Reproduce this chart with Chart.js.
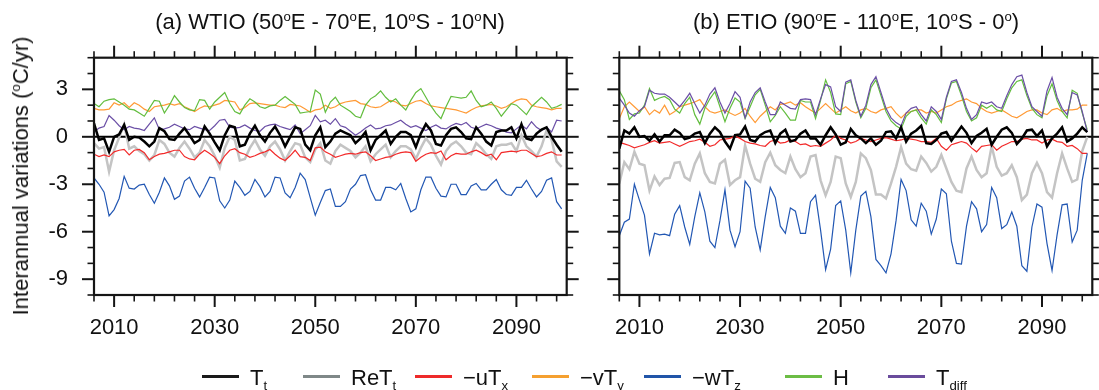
<!DOCTYPE html>
<html>
<head>
<meta charset="utf-8">
<script src="https://cdn.jsdelivr.net/npm/chart.js@4.4.1/dist/chart.umd.min.js"></script>
<style>
  html, body { margin: 0; padding: 0; background: #fff; }
  #wrap { position: relative; width: 1099px; height: 390px; overflow: hidden;
          font-family: "Liberation Sans", Arial, Helvetica, sans-serif; color: #111; }
  canvas { position: absolute; left: 0; top: 0; }
  .title { position: absolute; top: 11px; font-size: 22px; line-height: 22px; white-space: nowrap;
           transform: translateX(-50%); }
  .title sup { font-size: 0.6em; vertical-align: 0.6em; line-height: 0; }
  #ytitle { position: absolute; left: 21px; top: 176px; font-size: 22px; line-height: 22px;
            white-space: nowrap; transform: translate(-50%, -50%) rotate(-90deg); }
  #ytitle sup { font-size: 0.6em; vertical-align: 0.6em; line-height: 0; }
  .lg-line { position: absolute; top: 375px; width: 37px; height: 3px; }
  .lg-text { position: absolute; top: 367px; font-size: 22px; line-height: 22px; white-space: nowrap; }
  .lg-text sub { font-size: 0.6em; vertical-align: -0.35em; line-height: 0; }
</style>
</head>
<body>
<div id="wrap">
  <canvas id="chartA" width="1099" height="390"></canvas>
  <canvas id="chartB" width="1099" height="390"></canvas>
  <div class="title" style="left:330px">(a) WTIO (50<sup>o</sup>E - 70<sup>o</sup>E, 10<sup>o</sup>S - 10<sup>o</sup>N)</div>
  <div class="title" style="left:856px">(b) ETIO (90<sup>o</sup>E - 110<sup>o</sup>E, 10<sup>o</sup>S - 0<sup>o</sup>)</div>
  <div id="ytitle">Interannual variations (<sup>o</sup>C/yr)</div>
  <div id="legend"></div>
</div>
<script>
// years 2006-2099
const years = Array.from({ length: 94 }, (_, i) => 2006 + i);
const xTicks = [2010, 2030, 2050, 2070, 2090];
const xMinor = [2006, 2014, 2018, 2022, 2026, 2034, 2038, 2042, 2046, 2054, 2058, 2062, 2066, 2074, 2078, 2082, 2086, 2094, 2098];
const yTicks = [-9, -6, -3, 0, 3];
const yMinor = [-10, -8, -7, -5, -4, -2, -1, 1, 2, 4, 5];

const seriesNames = ["T<sub>t</sub>", "ReT<sub>t</sub>", "\u2212uT<sub>x</sub>", "\u2212vT<sub>y</sub>", "\u2212wT<sub>z</sub>", "H", "T<sub>diff</sub>"];

// (a) WTIO
const aTt = [0.85, -0.2, -0.1, -0.95, 0.0, 0.15, 0.75, -0.2, 0.0, -0.05,
  -0.3, -0.6, -0.3, 0.55, 0.35, -0.15, -0.2, 0.2, 0.55, 0.1,
  -0.4, -0.2, 0.65, 0.2, -0.35, -0.85, 0.1, 0.7, 0.6, -0.6,
  -0.5, 0.2, 0.7, 0.1, -0.3, 0.25, 0.65, 0.1, -0.6, 0.0,
  0.6, 0.5, -0.5, -0.85, 0.1, 0.6, -0.65, -0.3, 0.2, 0.4,
  0.25, 0.1, -0.4, -0.1, 0.3, -0.85, -0.2, 0.1, 0.4, -0.45,
  0.0, 0.3, 0.3, 0.1, -0.65, 0.2, 0.8, 0.4, -0.45, -0.55,
  0.1, 0.5, 0.6, 0.3, -0.1, -0.15, 0.6, 0.2, -0.3, -0.55,
  0.3, 0.4, 0.4, 0.6, -0.1, 0.8, -0.1, -0.2, 0.2, 0.45,
  0.6, 0.0, -0.5, -0.95];
const aReTt = [-0.4, -0.75, -0.65, -2.2, -0.85, -0.05, 0.8, -0.75, -0.6, -0.9,
  -1.1, -1.5, -1.15, -0.2, -0.45, -1.0, -1.25, -0.7, -0.3, -0.75,
  -1.3, -1.0, -0.2, -0.6, -1.2, -1.95, -0.7, 0.0, -0.2, -1.5,
  -1.4, -0.7, -0.2, -0.8, -1.2, -0.6, -0.3, -0.8, -1.5, -0.9,
  -0.4, -0.5, -1.3, -1.6, -0.8, -0.4, -1.5, -1.7, -0.9, -0.5,
  -0.7, -0.9, -1.3, -1.0, -0.6, -1.55, -1.1, -0.8, -0.5, -1.3,
  -0.9, -0.6, -0.6, -0.8, -1.4, -0.7, -0.1, -0.5, -1.2, -1.75,
  -0.9, -0.5, -0.3, -0.6, -1.0, -1.1, -0.4, -0.7, -1.1, -1.4,
  -0.6, -0.5, -0.5, -0.4, -0.9, 0.1, -0.6, -0.9, -1.25, -0.6,
  0.4, -0.2, -1.55, -1.9];
const aUTx = [-1.1, -1.25, -1.15, -1.25, -0.95, -0.85, -0.8, -1.15, -0.85, -0.8,
  -1.0, -1.45, -1.25, -1.1, -1.05, -0.95, -0.85, -0.85, -1.25, -1.4,
  -1.45, -1.1, -0.85, -1.05, -1.3, -1.7, -1.2, -0.85, -0.75, -1.0,
  -1.1, -1.3, -1.2, -1.05, -0.95, -0.8, -1.1, -1.35, -1.5, -1.2,
  -0.85, -1.25, -1.3, -1.5, -0.7, -0.65, -0.95, -1.1, -1.3, -1.2,
  -1.1, -1.05, -1.1, -1.0, -0.95, -1.2, -1.5, -1.4, -1.3, -1.25,
  -1.1, -1.0, -0.95, -1.0, -1.55, -1.3, -1.1, -1.0, -1.05, -0.9,
  -1.45, -1.2, -1.05, -1.1, -1.1, -0.95, -0.85, -1.0, -1.2, -1.1,
  -1.45, -1.0, -0.95, -0.9, -0.95, -0.85, -0.85, -1.05, -1.25, -1.2,
  -1.05, -0.95, -1.15, -1.15];
const aVTy = [1.8, 1.7, 1.7, 1.75, 2.15, 2.0, 2.15, 1.85, 2.15, 2.0,
  1.75, 1.6, 1.9, 1.95, 2.0, 2.1, 2.0, 2.1, 1.9, 1.75,
  1.6, 1.8, 1.95, 1.9, 2.0, 2.1, 2.3, 2.25, 2.2, 1.7,
  1.85, 2.1, 2.15, 2.1, 2.05, 2.0, 2.0, 1.9, 1.85, 2.05,
  2.0, 1.95, 1.75, 1.55, 1.7, 1.75, 2.0, 1.8, 1.9, 2.1,
  2.2, 2.25, 2.3, 2.1, 2.05, 1.9, 1.85, 1.9, 2.1, 2.3,
  2.2, 2.0, 1.95, 2.1, 2.25, 2.3, 2.1, 1.95, 1.9, 1.85,
  1.8, 1.75, 1.7, 1.6, 1.5, 1.7, 1.85, 1.95, 2.0, 2.05,
  1.95, 1.8, 1.9, 2.1, 2.3, 2.4, 2.35, 2.0, 1.9, 1.85,
  1.8, 1.7, 1.8, 1.8];
const aWTz = [-2.6, -3.0, -3.5, -5.0, -4.6, -3.9, -2.5, -3.25, -3.3, -3.05,
  -3.0, -3.65, -4.2, -3.5, -2.6, -3.1, -3.95, -3.75, -2.8, -2.55,
  -3.25, -3.8, -3.2, -2.55, -2.6, -4.05, -4.5, -4.0, -2.8, -3.2,
  -3.7, -3.45, -2.7, -3.15, -3.8, -3.45, -2.55, -2.6, -3.55, -3.85,
  -3.2, -2.3, -2.7, -3.85, -4.95, -4.15, -3.4, -3.3, -4.4, -4.4,
  -4.1, -3.3, -3.0, -2.45, -2.4, -3.35, -4.0, -4.0, -3.2, -3.2,
  -3.35, -2.95, -3.9, -4.75, -4.55, -3.35, -2.55, -2.55, -3.25, -3.75,
  -3.8, -3.0, -3.0, -3.65, -3.65, -3.1, -2.95, -3.35, -3.35, -3.0,
  -2.7, -3.35, -3.65, -3.7, -3.2, -3.2, -2.75, -3.3, -3.8, -3.45,
  -2.75, -2.6, -4.1, -4.55];
const aH = [2.1, 1.9, 2.25, 2.35, 2.4, 2.2, 2.0, 1.75, 1.7, 1.5,
  1.3, 1.8, 2.3, 2.25, 1.5, 2.0, 2.6, 2.2, 1.85, 1.7,
  1.65, 2.35, 2.3, 1.75, 2.2, 2.5, 2.8, 2.1, 1.6, 1.45,
  2.0, 2.4, 2.2, 1.9, 1.8, 1.95, 2.0, 2.3, 2.55, 2.3,
  2.05, 1.5, 1.55, 1.6, 2.95, 2.7, 1.55, 2.2, 2.5, 2.0,
  1.8, 1.6, 1.3, 1.2, 2.0, 2.4, 2.6, 2.9, 2.5, 2.2,
  2.4, 2.0, 1.7, 2.3, 2.8, 3.05, 2.5, 1.95, 1.5, 1.15,
  1.9, 2.55, 2.5, 2.45, 2.5, 2.9, 2.3, 1.9, 2.0, 2.2,
  1.8, 1.3, 1.7, 2.1, 2.0, 1.7, 1.4, 1.9, 2.2, 2.5,
  2.2, 1.8, 1.9, 2.05];
const aTdiff = [0.3, 0.55, 0.65, 1.35, 1.05, 0.7, 0.45, 0.65, 0.55, 0.5,
  0.4, 0.8, 1.2, 0.45, 0.5, 0.6, 0.8, 0.65, 0.5, 0.45,
  0.65, 0.55, 0.45, 0.4, 0.7, 1.05, 1.1, 0.6, 0.55, 0.6,
  0.75, 0.55, 0.4, 0.35, 0.65, 0.75, 0.8, 0.65, 0.55, 0.45,
  0.75, 0.2, 0.45, 0.7, 1.35, 0.95, 1.05, 0.8, 1.15, 0.7,
  0.6, 0.35, 0.1, 0.3, 0.55, 0.75, 0.5, 0.55, 0.7, 0.75,
  0.9, 1.05, 0.8, 0.6, 0.7, 0.55, 0.4, 0.6, 0.75, 0.55,
  0.5, 0.7, 0.85, 0.75, 0.9, 0.6, 0.5, 0.65, 0.8, 0.7,
  0.55, 0.45, 0.3, 0.25, 0.5, 0.75, 0.5, 0.95, 0.6, 0.4,
  0.6, 0.3, 1.05, 1.0];

// (b) ETIO
const bTt = [-0.75, 0.4, 0.2, 0.6, 0.0, 0.05, -0.25, 0.15, -0.3, 0.1,
  0.1, 0.45, 0.25, -0.15, -0.05, 0.2, 0.3, -0.4, 0.2, 0.6,
  0.3, -0.3, -0.75, 0.1, 0.15, 0.65, -0.2, -0.3, 0.1, 0.3,
  0.4, -0.4, 0.2, 0.45, -0.3, -0.2, 0.2, 0.4, -0.1, -0.1,
  -0.5, 0.1, 0.6, 0.15, -0.5, -0.35, 0.5, 0.1, -0.1, -0.4,
  -0.1, -0.5, -0.25, 0.3, 0.35, -0.1, 0.6, -0.3, 0.2, 0.4,
  0.7, -0.4, -0.45, -0.2, 0.2, 0.3, -0.25, 0.2, 0.65, 0.25,
  -0.4, 0.05, 0.25, 0.5, -0.5, 0.0, 0.45, 0.6, 0.25, -0.45,
  -0.1, 0.4, 0.45, 0.05, 0.4, -0.6, -0.1, 0.2, 0.6, -0.3,
  -0.1, 0.2, 0.6, 0.3];
const bReTt = [-2.95, -1.6, -2.05, -0.95, -1.7, -1.8, -3.4, -2.5, -3.05, -2.65,
  -2.6, -1.65, -1.6, -2.55, -2.75, -1.7, -1.05, -2.3, -2.85, -2.95,
  -1.7, -1.45, -3.05, -2.75, -2.55, -0.55, -1.7, -2.65, -2.85, -1.6,
  -1.0, -1.8, -2.1, -2.3, -1.25, -2.05, -2.55, -2.3, -1.25, -1.15,
  -2.75, -3.7, -2.85, -1.25, -1.35, -2.95, -3.8, -2.85, -1.05, -1.35,
  -2.1, -3.65, -3.65, -3.9, -2.95, -1.9, -0.65, -1.7, -2.05, -2.15,
  -1.25, -1.65, -2.2, -1.9, -1.15, -2.0, -2.85, -3.4, -3.5, -2.0,
  -1.25, -2.1, -2.55, -2.3, -0.6, -1.9, -2.45, -2.3, -1.8, -2.55,
  -4.0, -3.65, -2.3, -1.65, -2.3, -3.5, -3.85, -2.3, -1.05, -2.0,
  -2.85, -2.7, -0.9, 0.0];
const bUTx = [-0.35, -0.45, -0.55, -0.7, -0.6, -0.5, -0.35, -0.25, -0.4, -0.35,
  -0.3, -0.45, -0.6, -0.45, -0.3, -0.25, -0.15, -0.35, -0.6, -0.5,
  -0.2, -0.15, -0.1, 0.05, -0.1, -0.3, -0.4, -0.45, -0.55, -0.6,
  -0.3, -0.2, -0.4, -0.35, -0.2, -0.3, -0.5, -0.45, -0.6, -0.55,
  -0.6, -0.4, -0.2, 0.1, -0.1, -0.2, -0.4, -0.3, -0.1, -0.2,
  -0.3, -0.2, -0.1, -0.05, -0.15, -0.25, -0.2, -0.1, -0.15, -0.2,
  -0.3, -0.3, -0.35, -0.1, -0.6, -0.85, -0.5, -0.4, -0.3, -0.4,
  -0.7, -0.95, -0.6, -0.55, -0.5, -0.85, -0.6, -0.45, -0.3, -0.3,
  -0.15, -0.1, -0.2, -0.2, -0.4, -0.2, -0.15, -0.3, -0.35, -0.6,
  -0.55, -0.75, -1.05, -1.05];
const bVTy = [1.15, 1.9, 2.2, 1.9, 1.6, 1.9, 1.4, 1.7, 1.5, 2.0,
  1.4, 1.6, 1.9, 2.0, 2.1, 2.2, 2.35, 1.9, 1.6, 1.5,
  1.6, 1.7, 1.5, 1.35, 1.5, 1.8, 1.3, 0.9, 1.3, 1.6,
  1.9, 1.7, 2.05, 2.1, 2.2, 2.0, 2.15, 1.9, 1.7, 1.5,
  1.8, 2.1, 1.8, 1.5, 1.7, 1.9, 1.65, 1.5, 1.7, 1.8,
  1.6, 1.5, 1.7, 1.8, 1.9, 1.5, 1.2, 1.5, 1.6, 1.7,
  1.7, 1.5, 1.6, 1.5, 1.7, 1.9, 2.0, 2.2, 2.3, 2.4,
  2.2, 2.1, 1.8, 1.6, 1.5, 1.6, 1.7, 1.5, 1.3, 1.2,
  1.4, 1.6, 1.7, 1.7, 1.5, 1.4, 1.7, 1.8, 1.6, 1.7,
  1.7, 1.75, 2.0, 2.0];
const bWTz = [-6.25, -5.4, -5.2, -3.0, -4.0, -4.95, -7.4, -6.1, -6.2, -6.15,
  -6.25, -4.9, -4.35, -5.7, -6.8, -5.05, -3.55, -4.75, -6.6, -7.0,
  -5.3, -3.35, -5.9, -6.95, -6.0, -2.8, -3.25, -5.7, -7.15, -5.05,
  -3.2, -3.85, -5.65, -6.1, -4.5, -4.7, -6.1, -6.1, -4.1, -3.7,
  -5.9, -8.4, -7.1, -4.35, -4.05, -5.9, -8.6, -5.9, -3.75, -3.45,
  -5.05, -7.75, -8.15, -8.6, -7.4, -5.3, -2.7, -3.4, -5.25, -5.65,
  -4.2, -4.7, -6.15, -5.2, -3.3, -3.6, -6.6, -8.0, -8.05, -5.65,
  -4.1, -4.55, -6.0, -5.55, -3.2, -3.85, -5.8, -5.55, -4.75, -5.65,
  -8.15, -8.5, -5.7, -4.25, -4.45, -6.75, -8.45, -6.2, -4.3, -4.25,
  -6.65, -5.9, -2.75, -1.05];
const bH = [2.9, 2.35, 1.1, 1.45, 1.5, 2.0, 3.05, 2.3, 2.45, 2.55,
  2.35, 1.75, 1.5, 2.1, 2.5, 1.4, 0.8, 1.8, 2.4, 2.85,
  1.9, 0.95, 1.8, 2.45, 2.2, 1.15, 1.9, 2.65, 3.0, 2.0,
  0.95, 1.35, 1.9, 1.5, 1.05, 1.05, 2.3, 2.2, 2.2, 1.15,
  2.3, 3.6, 2.8, 1.45, 1.4, 3.35, 3.5, 2.2, 1.2, 1.8,
  3.1, 3.6, 2.6, 1.6, 1.0, 0.7, 0.5, 1.3, 1.6, 1.7,
  1.2, 0.8, 1.7, 1.4, 0.9, 2.4, 3.4, 3.5, 2.6, 1.6,
  1.0, 1.2, 2.0, 1.8, 2.0, 1.7, 1.6, 2.4, 3.1, 3.5,
  3.6, 2.6, 1.8, 1.4, 1.2, 2.6, 3.35, 2.3, 1.6, 1.2,
  2.95, 2.75, 1.5, 0.45];
const bTdiff = [2.45, 2.0, 1.5, 1.3, 1.65, 1.9, 2.95, 2.75, 2.7, 2.7,
  2.5, 2.2, 1.9, 2.3, 2.75, 2.1, 1.5, 2.0, 2.7, 3.1,
  2.2, 1.5, 2.1, 2.85, 2.5, 1.2, 2.2, 2.8, 3.1, 2.2,
  1.4, 1.4, 2.2, 2.0, 1.8, 1.75, 2.35, 2.4, 2.35, 1.4,
  2.4, 3.3, 3.15, 1.9, 1.6, 3.45, 3.6, 2.3, 1.3, 2.0,
  3.3, 3.8, 2.8, 1.8, 1.2, 0.9, 0.7, 1.5, 1.8, 1.9,
  1.4, 1.0, 1.9, 1.6, 1.1, 2.5, 3.5, 3.6, 2.8, 1.8,
  1.1, 1.4, 2.2, 2.1, 2.2, 1.9, 1.8, 2.6, 3.3, 3.8,
  3.9, 2.8, 1.9, 1.6, 1.3, 2.9, 3.75, 2.5, 1.8, 1.4,
  2.8, 2.65, 1.6, 0.3];

// styles
const lineColors = ["#000000", "#c4c4c4", "#f22a2a", "#ff9a35", "#2257b3", "#62bd3e", "#6b4fa6"];
const legendColors = ["#1a1a1a", "#7f8888", "#ee2a2a", "#f5a030", "#2155a8", "#6cbd45", "#6a4c9c"];
const lineWidths = [2.5, 2.5, 1.2, 1.2, 1.2, 1.2, 1.2];
const drawOrder = [0, 6, 5, 4, 3, 2, 1];

Chart.defaults.font.family = '"Liberation Sans", Arial, Helvetica, sans-serif';
Chart.defaults.font.size = 22;
Chart.defaults.color = "#111";

function line(ctx, x1, y1, x2, y2) {
  ctx.beginPath(); ctx.moveTo(x1, y1); ctx.lineTo(x2, y2); ctx.stroke();
}

// frame, zero line and outward ticks on all four sides
const framePlugin = {
  id: "frame",
  beforeDatasetsDraw(chart) {
    const { ctx, chartArea: a, scales: { y } } = chart;
    const y0 = y.getPixelForValue(0);
    ctx.save();
    ctx.strokeStyle = "#000";
    ctx.lineWidth = 2;
    line(ctx, a.left, y0, a.right, y0);
    ctx.restore();
  },
  afterDatasetsDraw(chart) {
    const { ctx, chartArea: a, scales: { x, y } } = chart;
    ctx.save();
    ctx.strokeStyle = "#151515";
    ctx.lineWidth = 2;
    xTicks.forEach(v => {
      const p = x.getPixelForValue(v);
      line(ctx, p, a.bottom, p, a.bottom + 12);
      line(ctx, p, a.top, p, a.top - 12);
    });
    yTicks.forEach(v => {
      const p = y.getPixelForValue(v);
      line(ctx, a.left, p, a.left - 12, p);
      line(ctx, a.right, p, a.right + 12, p);
    });
    ctx.lineWidth = 1.6;
    xMinor.forEach(v => {
      const p = x.getPixelForValue(v);
      line(ctx, p, a.bottom, p, a.bottom + 6.5);
      line(ctx, p, a.top, p, a.top - 6.5);
    });
    yMinor.forEach(v => {
      const p = y.getPixelForValue(v);
      line(ctx, a.left, p, a.left - 6.5, p);
      line(ctx, a.right, p, a.right + 6.5, p);
    });
    ctx.lineWidth = 2.2;
    ctx.strokeRect(a.left, a.top, a.right - a.left, a.bottom - a.top);
    ctx.restore();
  }
};

function makePanel(id, series, pad, yWidth, showYLabels) {
  const datasets = series.map((vals, i) => ({
    data: vals.map((v, k) => ({ x: years[k], y: v })),
    borderColor: lineColors[i],
    borderWidth: lineWidths[i],
    pointRadius: 0,
    tension: 0,
    order: drawOrder[i]
  }));
  return new Chart(document.getElementById(id), {
    type: "line",
    data: { datasets },
    options: {
      responsive: false,
      animation: false,
      devicePixelRatio: 1,
      layout: { padding: pad },
      plugins: { legend: { display: false }, tooltip: { enabled: false } },
      scales: {
        x: {
          type: "linear", min: 2006, max: 2100,
          grid: { display: false, drawTicks: false },
          border: { display: false },
          afterBuildTicks: ax => { ax.ticks = xTicks.map(v => ({ value: v })); },
          afterFit: ax => { ax.height = 45; },
          ticks: { padding: 20, maxRotation: 0, autoSkip: false, callback: v => String(v) }
        },
        y: {
          type: "linear", min: -10, max: 5,
          grid: { display: false, drawTicks: false },
          border: { display: false },
          afterBuildTicks: ax => { ax.ticks = yTicks.map(v => ({ value: v })); },
          afterFit: ax => { ax.width = yWidth; },
          ticks: { display: showYLabels, padding: 26, callback: v => String(v) }
        }
      }
    },
    plugins: [framePlugin]
  });
}

makePanel("chartA", [aTt, aReTt, aUTx, aVTy, aWTz, aH, aTdiff],
  { left: 0, top: 57.7, right: 532.3, bottom: 50 }, 94, true);
makePanel("chartB", [bTt, bReTt, bUTx, bVTy, bWTz, bH, bTdiff],
  { left: 580, top: 57.7, right: 6.7, bottom: 50 }, 39.3, false);

// legend
const legendLeft = [202, 303, 415, 532, 644, 785, 888];
const legend = document.getElementById("legend");
seriesNames.forEach((name, i) => {
  const l = document.createElement("div");
  l.className = "lg-line";
  l.style.left = legendLeft[i] + "px";
  l.style.background = legendColors[i];
  legend.appendChild(l);
  const t = document.createElement("div");
  t.className = "lg-text";
  t.style.left = (legendLeft[i] + 48) + "px";
  t.innerHTML = name;
  legend.appendChild(t);
});
</script>
</body>
</html>
